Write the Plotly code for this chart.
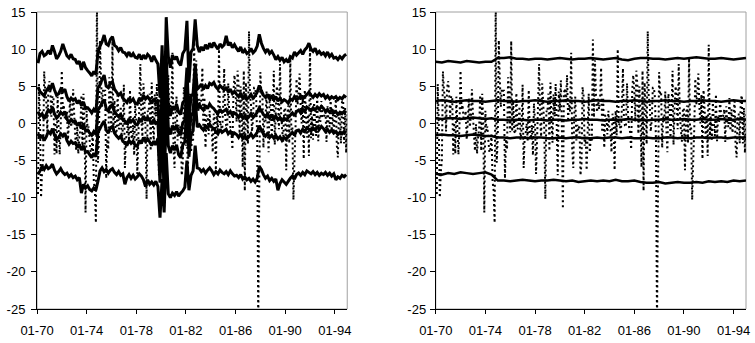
import pandas as pd
import plotly.graph_objects as go

# Monthly returns (%), Jan 1970 - Dec 1994, one row per year
returns_1970s = [
    -9.5, 5.3, 0.1, -10.0, -6.5, -5.0, 7.0, 4.4, 3.3, -1.1, 4.7, 5.7,
    4.0, 0.9, 3.7, 3.6, -4.2, 0.1, -4.1, 3.6, -0.7, -4.2, -0.3, 7.1,
    1.8, 2.5, 0.6, 0.4, 1.7, -2.2, 0.2, 3.4, -0.5, 0.9, 4.6, 1.2,
    -1.7, -3.7, -0.1, -4.1, -1.9, -0.7, 3.8, -3.7, 4.0, -0.1, -12.0, 1.7,
    -1.0, -0.4, -2.3, -3.9, -3.4, -1.5, -7.8, -9.0, -13.4, 17.0, -5.3, -2.0,
    11.2, 6.0, 2.2, 4.7, 4.4, 4.4, -7.4, -2.1, -3.5, 6.2, 2.5, -1.2,
    11.1, -1.1, 3.1, -1.1, -1.4, 4.1, -0.8, -0.5, 2.3, -2.2, -0.8, 5.2,
    -6.0, -2.2, -1.4, 0.0, -2.4, 4.5, -1.6, -2.1, -0.2, -4.3, 2.7, 0.3,
    -6.8, -2.5, 2.5, 8.0, 0.4, -1.8, 5.4, 2.6, -0.7, -10.2, 1.7, 1.5,
    4.0, -3.7, 5.5, 0.2, -2.6, 3.9, 0.9, 5.3, 0.0, -7.0, 4.3, 1.7,
]
returns_1980s = [
    5.8, -0.4, -11.5, 4.1, 4.7, 2.7, 6.5, 0.6, 2.5, 1.6, 9.5, -3.4,
    -6.0, 1.3, 3.6, -2.3, -0.2, -1.0, -0.2, -7.0, -5.4, 4.9, 3.7, -3.0,
    -1.8, -6.3, -1.0, 4.0, -3.9, -2.0, -2.3, 11.3, 0.8, 8.5, 3.6, 1.5,
    3.3, 1.9, 3.3, 7.5, -1.2, 3.5, -3.3, 1.1, 1.0, -1.5, 1.7, -0.9,
    -0.9, -3.9, 1.3, 0.5, -6.3, 1.7, -1.6, 10.0, -0.3, 0.0, -1.5, 2.2,
    7.4, 0.9, -0.3, -0.5, 5.4, 1.2, -0.5, -1.2, -3.5, 4.3, 6.5, 4.5,
    0.2, 7.1, 5.3, -1.4, 5.0, 1.4, -5.9, 7.1, -9.1, 5.5, 2.1, -2.8,
    12.4, 3.7, 2.6, -1.1, 0.6, 4.8, 4.8, 3.5, -2.4, -27.0, -8.5, 6.9,
    4.0, 4.2, -3.3, 0.9, 0.3, 4.3, -0.5, -3.9, 4.0, 2.6, -1.9, 1.5,
    7.1, -2.9, 2.1, 5.0, 3.5, -0.8, 8.0, 1.6, -0.7, -2.5, 1.7, 2.1,
]
returns_1990s = [
    -6.3, 0.9, 2.4, -2.7, 8.8, -0.9, -0.5, -10.3, -5.1, -0.7, 6.0, 2.5,
    4.2, 6.7, 2.2, 0.0, 3.9, -4.8, 4.5, 2.0, -1.9, 1.2, -4.4, 10.6,
    -2.0, 1.0, -2.2, 2.8, 0.1, -1.7, 3.9, -2.4, 0.9, 0.2, 3.0, 1.0,
    0.7, 1.0, 1.9, -2.5, 2.3, 0.1, -0.5, 3.4, -1.0, 1.9, -1.3, 1.0,
    3.3, -3.0, -4.6, 1.2, 1.2, -2.7, 3.1, 3.8, -2.7, 2.1, -4.0, 1.2,
]
monthly_returns = returns_1970s + returns_1980s + returns_1990s

# Time-varying bands (every second month), one row per year
band_upper = [
    8.1, 9.4, 9.7, 9.1, 9.3, 9.8,
    9.3, 10.5, 9.7, 8.7, 9.1, 9.7,
    10.7, 9.9, 9.1, 8.8, 9.3, 8.7,
    8.6, 8.0, 8.4, 7.2, 8.3, 7.5,
    7.1, 6.8, 6.4, 7.0, 6.6, 9.6,
    10.4, 11.0, 11.9, 10.7, 10.5, 11.3,
    11.7, 10.5, 10.3, 9.8, 10.2, 9.6,
    9.5, 9.1, 9.6, 9.0, 9.4, 8.9,
    8.8, 9.3, 8.6, 9.2, 8.7, 9.3,
    9.0, 8.3, 9.1, 8.5, 8.0, 3.5,
    10.5, 0.5, 14.3, 9.0, 7.5, 9.2,
    8.6, 9.0, 8.2, 7.8, 9.4, 9.9,
    13.8, 5.5, 9.6, 10.1, 14.0, 10.5,
    9.6, 10.3, 9.8, 10.6, 10.0, 10.8,
    10.2, 10.9, 10.4, 10.0, 10.7, 10.3,
    10.6, 11.8, 10.5, 10.9, 10.2, 10.6,
    10.1, 9.7, 10.3, 9.5, 9.9, 9.4,
    9.6, 10.1, 9.5, 9.8, 10.4, 12.0,
    10.8, 10.1, 9.6, 10.0, 9.4, 9.7,
    9.2, 8.6, 9.0, 8.5, 8.9, 8.3,
    8.6, 8.2, 9.0, 8.8, 9.6, 9.2,
    9.5, 9.8, 9.3, 9.9, 10.2, 10.8,
    10.0, 9.7, 10.1, 9.4, 9.7, 9.3,
    9.5, 9.1, 9.6, 9.0, 9.3, 8.8,
    8.9, 8.6, 9.0, 8.7, 9.1, 9.3,
]
band_high = [
    4.9, 4.3, 4.0, 3.7, 4.4, 4.8,
    4.6, 5.4, 4.5, 3.8, 4.0, 4.6,
    4.3, 4.6, 3.6, 3.0, 3.4, 3.1,
    3.3, 2.7, 3.1, 2.4, 2.9, 2.0,
    2.1, 1.8, 1.4, 1.9, 1.5, 4.8,
    5.2, 5.9, 6.5, 5.0, 4.8, 5.4,
    5.6, 4.6, 4.2, 3.8, 4.1, 3.4,
    3.1, 2.8, 3.4, 3.0, 3.3, 2.7,
    2.6, 3.4, 3.0, 3.8, 3.3, 3.6,
    3.2, 2.7, 3.3, 2.9, 3.0, -3.0,
    4.5, -5.0, 9.0, 2.5, 1.0, 2.3,
    1.8, 2.6, 1.5, 1.2, 2.8, 3.1,
    7.5, 0.5, 3.6, 4.0, 8.0, 4.6,
    4.9, 5.3, 4.6, 5.1, 4.7, 5.4,
    5.2, 5.5, 4.9, 4.6, 5.1, 4.8,
    4.5, 4.9, 4.2, 4.6, 4.0, 4.3,
    3.9, 3.6, 4.1, 3.4, 3.7, 3.3,
    3.5, 3.9, 3.4, 3.7, 4.2, 5.1,
    4.4, 3.8, 3.5, 3.9, 3.3, 3.6,
    3.2, 3.6, 3.0, 3.4, 2.9, 3.2,
    3.0, 2.7, 3.3, 3.1, 3.6, 3.2,
    3.4, 3.7, 3.3, 3.6, 3.9, 4.2,
    3.8, 3.5, 3.9, 3.6, 4.0, 3.7,
    3.9, 3.4, 3.7, 3.3, 3.6, 3.4,
    3.6, 3.2, 3.5, 3.3, 3.7, 3.5,
]
band_mid = [
    1.6, 1.0, 1.3, 0.6, 1.2, 1.8,
    1.5, 2.2, 1.3, 0.7, 1.0, 1.5,
    1.2, 1.6, 0.6, 0.1, 0.5, 0.2,
    0.3, -0.3, 0.1, -0.7, -0.1, -1.0,
    -0.9, -1.3, -1.6, -1.1, -1.5, 1.8,
    2.2, 2.8, 3.2, 2.0, 1.6, 2.3,
    2.5, 1.6, 1.2, 0.9, 1.2, 0.5,
    0.3, -0.1, 0.6, 0.2, 0.5, -0.1,
    -0.2, 0.6, 0.2, 1.0, 0.4, 0.8,
    0.4, -0.1, 0.5, 0.0, 0.2, -6.0,
    2.0, -7.5, 6.0, -0.5, -1.5, -0.3,
    -0.9, -0.2, -1.2, -1.6, 0.1, 0.4,
    5.0, -2.0, 1.0, 1.5, 5.5, 2.0,
    2.5, 2.1, 1.8, 2.4, 2.0, 2.6,
    2.2, 2.0, 1.6, 1.3, 1.9, 1.5,
    1.7, 1.9, 1.3, 1.6, 1.1, 1.4,
    1.2, 0.8, 1.3, 0.7, 1.0, 0.6,
    0.9, 1.3, 0.8, 1.1, 1.5, 2.1,
    1.7, 1.2, 0.9, 1.3, 0.7, 1.0,
    0.6, 1.0, 0.5, 0.8, 0.3, 0.7,
    0.5, 0.8, 1.1, 1.4, 1.0, 1.6,
    1.8, 1.4, 1.9, 1.6, 2.2, 2.0,
    1.7, 2.1, 1.8, 2.2, 1.9, 2.3,
    2.0, 1.6, 1.9, 1.5, 1.8, 1.4,
    1.6, 1.2, 1.5, 1.3, 1.6, 1.4,
]
band_low = [
    -1.4, -2.0, -1.6, -2.3, -1.8, -1.1,
    -1.4, -0.7, -1.6, -2.2, -1.9, -1.4,
    -1.7, -1.3, -2.3, -2.8, -2.4, -2.7,
    -2.6, -3.2, -2.8, -3.6, -3.0, -3.9,
    -3.8, -4.2, -4.6, -4.0, -4.5, -1.2,
    -0.7, -0.1, 0.3, -0.9, -1.3, -0.6,
    -0.4, -1.3, -1.7, -2.0, -1.7, -2.4,
    -2.6, -3.0, -2.3, -2.7, -2.4, -3.0,
    -3.1, -2.3, -2.7, -1.9, -2.5, -2.1,
    -2.5, -3.0, -2.4, -2.9, -2.0, -8.0,
    -1.0, -9.5, 3.0, -3.0, -4.0, -3.0,
    -3.6, -2.9, -4.2, -4.6, -2.9, -2.5,
    3.0, -4.5, -1.5, -1.0, 3.5, -0.5,
    -0.2, -0.6, -0.9, -0.3, -0.7, -0.1,
    -0.5, -0.7, -1.1, -1.4, -0.8, -1.2,
    -1.0, -0.8, -1.4, -1.1, -1.6, -1.3,
    -1.5, -1.9, -1.4, -2.0, -1.7, -2.1,
    -1.8, -1.4, -1.9, -1.6, -1.2, -0.3,
    -0.9, -1.4, -1.7, -1.3, -1.9, -1.6,
    -2.0, -1.6, -2.1, -1.8, -2.3, -1.9,
    -2.1, -1.8, -1.5, -1.2, -1.6, -1.0,
    -0.9, -1.3, -0.8, -1.1, -0.6, -0.8,
    -1.0, -0.6, -0.9, -0.5, -0.8, -0.4,
    -0.7, -1.1, -0.8, -1.2, -0.9, -1.3,
    -1.1, -1.5, -1.2, -1.4, -1.1, -1.3,
]
band_lower = [
    -6.9, -6.4, -5.8, -6.2, -5.7, -6.1,
    -5.9, -5.5, -6.3, -6.8, -6.5, -6.1,
    -6.6, -6.9, -6.7, -7.2, -6.9, -7.3,
    -7.1, -7.6, -7.3, -9.4, -8.2, -8.7,
    -8.4, -8.9, -9.1, -8.7, -9.0, -7.8,
    -6.4, -6.0, -6.5, -6.2, -6.7, -6.3,
    -6.1, -6.6, -6.9, -6.5, -7.0, -6.8,
    -8.2, -7.3, -6.9, -7.4, -7.0, -7.5,
    -7.2, -6.8, -7.1, -7.6, -8.5, -7.6,
    -8.2, -7.9, -8.3, -7.8, -8.5, -12.7,
    -7.5, -12.0, -4.0, -9.5, -10.0, -9.4,
    -9.7, -9.2, -9.8, -9.4, -9.1, -8.6,
    -5.0, -9.0, -7.0, -6.4, -3.0, -6.0,
    -6.1, -6.5, -6.2, -6.7, -6.3, -6.0,
    -6.4, -6.9, -6.5, -6.8, -6.3, -6.6,
    -6.8, -6.5, -6.9, -6.4, -6.8, -7.1,
    -7.0, -7.3, -6.9, -7.5, -7.2, -7.6,
    -7.4, -7.8, -7.5, -7.9, -7.4, -5.8,
    -6.2, -6.9, -7.4, -7.1, -7.7, -7.4,
    -7.8, -7.5, -9.0, -8.1, -7.6, -7.9,
    -8.2, -7.8, -7.4, -7.1, -7.5, -6.9,
    -6.7, -7.0, -6.6, -6.9, -6.4, -6.6,
    -6.8, -6.5, -6.9, -6.6, -7.0, -6.7,
    -6.9, -6.6, -7.0, -6.7, -7.1, -6.8,
    -7.6, -7.2, -7.4, -7.0, -7.2, -6.9,
]

# Constant-parameter bands (half-yearly, Jan 1970 - Jan 1995), five years per row
smooth_upper = [
    8.3, 8.2, 8.4, 8.3, 8.2, 8.4, 8.3, 8.2, 8.3, 8.3,
    8.8, 8.8, 8.9, 8.7, 8.7, 8.6, 8.7, 8.7, 8.6, 8.7,
    8.8, 8.7, 8.6, 8.7, 8.7, 8.8, 8.7, 8.6, 8.7, 8.8,
    8.6, 8.5, 8.7, 8.8, 8.8, 8.7, 8.7, 8.6, 8.7, 8.8,
    8.7, 8.8, 8.9, 8.8, 8.7, 8.7, 8.8, 8.7, 8.6, 8.7,
    8.8,
]
smooth_high = [
    3.0, 3.1, 3.0, 2.9, 3.0, 3.1, 3.0, 3.0, 2.9, 3.0,
    3.1, 3.0, 3.0, 2.9, 3.0, 3.0, 3.1, 3.0, 2.9, 3.0,
    3.0, 3.1, 3.0, 3.0, 2.9, 3.0, 3.1, 3.0, 3.0, 2.9,
    3.0, 3.0, 3.1, 3.0, 2.9, 3.0, 3.0, 3.1, 3.0, 3.0,
    2.9, 3.0, 3.0, 3.1, 3.0, 3.0, 2.9, 3.0, 3.1, 3.0,
    3.0,
]
smooth_mid = [
    0.7, 0.6, 0.7, 0.7, 0.6, 0.7, 0.8, 0.7, 0.6, 0.7,
    0.5, 0.5, 0.4, 0.5, 0.5, 0.4, 0.5, 0.5, 0.4, 0.5,
    0.5, 0.4, 0.5, 0.5, 0.6, 0.5, 0.5, 0.4, 0.5, 0.5,
    0.5, 0.6, 0.5, 0.5, 0.4, 0.5, 0.5, 0.6, 0.5, 0.5,
    0.6, 0.5, 0.5, 0.6, 0.5, 0.5, 0.6, 0.5, 0.5, 0.6,
    0.5,
]
smooth_low = [
    -1.6, -1.5, -1.6, -1.6, -1.7, -1.6, -1.5, -1.6, -1.7, -1.7,
    -1.9, -1.9, -2.0, -1.9, -1.9, -2.0, -1.9, -1.9, -2.0, -2.0,
    -1.9, -2.0, -1.9, -1.9, -2.0, -2.0, -1.9, -2.0, -1.9, -1.9,
    -2.0, -1.9, -2.0, -2.0, -1.9, -2.0, -2.0, -1.9, -1.9, -2.0,
    -1.9, -2.0, -1.9, -1.9, -2.0, -1.9, -1.9, -2.0, -1.9, -1.9,
    -1.9,
]
smooth_lower = [
    -6.8, -6.9, -6.7, -6.8, -6.6, -6.7, -6.8, -6.7, -6.6, -6.9,
    -7.7, -7.7, -7.8, -7.7, -7.6, -7.7, -7.8, -7.7, -7.7, -7.6,
    -7.7, -7.8, -7.7, -7.9, -7.8, -7.7, -7.8, -7.7, -7.8, -7.6,
    -7.8, -7.8, -7.7, -7.9, -8.0, -8.0, -7.9, -8.1, -8.0, -7.9,
    -8.0, -8.0, -7.9, -8.0, -7.8, -7.9, -7.8, -7.9, -7.7, -7.8,
    -7.7,
]

# Axis ticks
y_ticks = [-25, -20, -15, -10, -5, 0, 5, 10, 15]
y_tick_labels = ["-25", "-20", "-15", "-10", "-5", "0", "5", "10", "15"]
x_tick_dates = ["1970-01-01", "1974-01-01", "1978-01-01", "1982-01-01",
                "1986-01-01", "1990-01-01", "1994-01-01"]
x_tick_labels = ["01-70", "01-74", "01-78", "01-82", "01-86", "01-90", "01-94"]

month_end = pd.offsets.MonthEnd(0)
monthly_dates = pd.date_range("1970-01-01", periods=len(monthly_returns), freq="MS") + month_end
band_dates = pd.date_range("1970-01-01", periods=len(band_upper), freq="2MS") + month_end
smooth_dates = pd.date_range("1970-01-01", periods=len(smooth_upper), freq="6MS")

fig = go.Figure()

dotted = dict(color="black", width=2, dash="2px,3px", simplify=False)
for xa, ya in (("x", "y"), ("x2", "y2")):
    fig.add_trace(go.Scatter(x=monthly_dates, y=monthly_returns, mode="lines",
                             line=dotted, xaxis=xa, yaxis=ya))

for band in (band_upper, band_high, band_mid, band_low, band_lower):
    fig.add_trace(go.Scatter(x=band_dates, y=band, mode="lines",
                             line=dict(color="black", width=3, simplify=False),
                             xaxis="x", yaxis="y"))

for band in (smooth_upper, smooth_high, smooth_mid, smooth_low, smooth_lower):
    fig.add_trace(go.Scatter(x=smooth_dates, y=band, mode="lines",
                             line=dict(color="black", width=2.5, simplify=False),
                             xaxis="x2", yaxis="y2"))

tick_font = dict(family="Liberation Sans, Arial, sans-serif", size=13, color="black")

def x_axis(domain, anchor):
    return dict(domain=domain, anchor=anchor, type="date",
                range=["1970-01-01", "1995-01-01"],
                tickmode="array", tickvals=x_tick_dates, ticktext=x_tick_labels,
                ticks="outside", ticklen=4, tickcolor="black", tickwidth=1,
                showline=True, linecolor="black", linewidth=1,
                showgrid=False, zeroline=False, tickfont=tick_font,
                ticklabelstandoff=5)

def y_axis(anchor, standoff):
    return dict(domain=[0, 1], anchor=anchor, range=[-25, 15],
                tickmode="array", tickvals=y_ticks, ticktext=y_tick_labels,
                ticks="outside", ticklen=5, tickcolor="black", tickwidth=1,
                showline=True, linecolor="black", linewidth=1,
                showgrid=False, zeroline=False, tickfont=tick_font,
                ticklabelstandoff=standoff)

left_domain = [0, 312 / 713]
right_domain = [401 / 713, 1]

fig.update_layout(
    width=755, height=343,
    margin=dict(l=37, r=5, t=9, b=34),
    paper_bgcolor="white", plot_bgcolor="white",
    showlegend=False,
    xaxis=x_axis(left_domain, "y"),
    yaxis=y_axis("x", 3),
    xaxis2=x_axis(right_domain, "y2"),
    yaxis2=y_axis("x2", 1),
    shapes=[
        dict(type="rect", xref="x domain", yref="y domain", x0=0, x1=1, y0=0, y1=1,
             line=dict(color="#a0a0a0", width=1), layer="below"),
        dict(type="rect", xref="x2 domain", yref="y2 domain", x0=0, x1=1, y0=0, y1=1,
             line=dict(color="#a0a0a0", width=1), layer="below"),
    ],
)

fig.write_html("out.html")
